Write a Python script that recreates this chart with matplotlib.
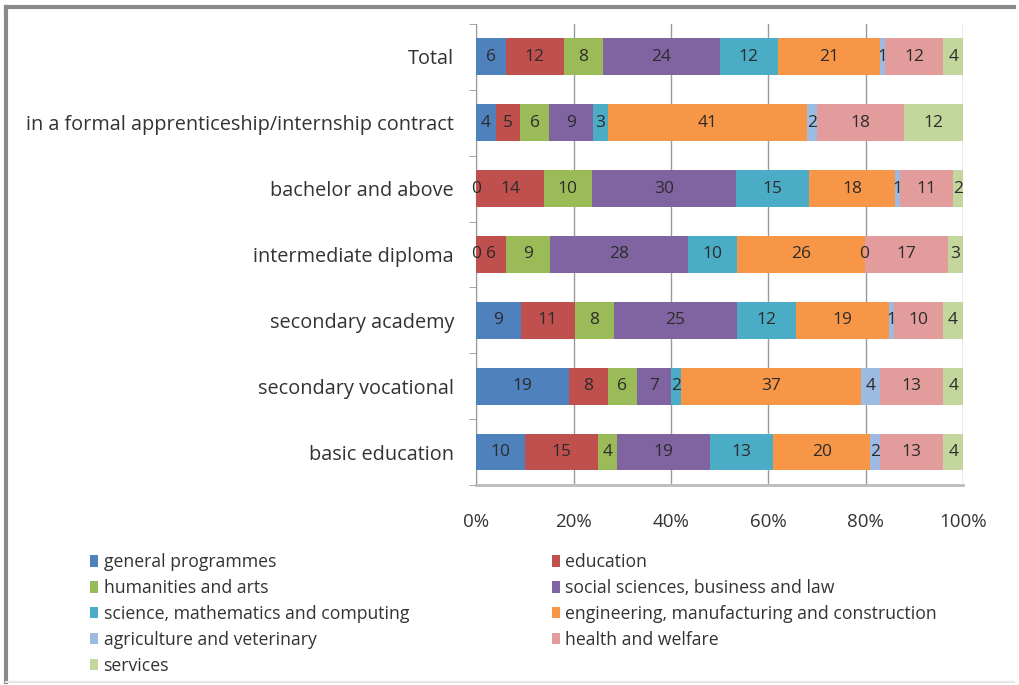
import matplotlib.pyplot as plt
import numpy as np
from matplotlib.lines import Line2D

plt.rcParams['font.family'] = ['Open Sans', 'DejaVu Sans']

# rows from bottom to top, as drawn
groups = ['basic education', 'secondary vocational', 'secondary academy',
          'intermediate diploma', 'bachelor and above',
          'in a formal apprenticeship/internship contract', 'Total']

fields = ['general programmes', 'education', 'humanities and arts',
          'social sciences, business and law', 'science, mathematics and computing',
          'engineering, manufacturing and construction', 'agriculture and veterinary',
          'health and welfare', 'services']

general = [10, 19, 9, 0, 0, 4, 6]
education = [15, 8, 11, 6, 14, 5, 12]
humanities = [4, 6, 8, 9, 10, 6, 8]
social = [19, 7, 25, 28, 30, 9, 24]
science = [13, 2, 12, 10, 15, 3, 12]
engineering = [20, 37, 19, 26, 18, 41, 21]
agriculture = [2, 4, 1, 0, 1, 2, 1]
health = [13, 13, 10, 17, 11, 18, 12]
services = [4, 4, 4, 3, 2, 12, 4]

series = [general, education, humanities, social, science,
          engineering, agriculture, health, services]
colors = ['#4F81BD', '#C0504D', '#9BBB59', '#8064A2', '#4BACC6',
          '#F79646', '#9DBAE0', '#E39C9C', '#C3D69B']

vals = np.array(series, dtype=float)
shares = vals / vals.sum(axis=0)

fig = plt.figure(figsize=(10.2, 6.85), dpi=100)
ax = fig.add_axes([0.467, 0.292, 0.477, 0.673])

y = np.arange(len(groups))
left = np.zeros(len(groups))
for name, v, s, c in zip(fields, vals, shares, colors):
    ax.barh(y, s, left=left, height=0.56, color=c, label=name, zorder=3)
    for yi, (l, w, lab) in enumerate(zip(left, s, v)):
        ax.text(l + w / 2, yi, '%d' % lab, ha='center', va='center',
                fontsize=12.5, color='#2b2b2b', zorder=4)
    left += s

ax.set_xlim(0, 1)
ax.set_ylim(-0.5, len(groups) - 0.5)
ax.set_xticks(np.linspace(0, 1, 6))
ax.set_xticklabels(['0%', '20%', '40%', '60%', '80%', '100%'], fontsize=13.5, color='#333333')
ax.set_yticks(y)
ax.set_yticklabels(groups, fontsize=14.3, color='#333333')
ax.tick_params(axis='x', length=0, pad=20)
ax.tick_params(axis='y', length=0, pad=16)
ax.set_yticks(np.arange(-0.5, len(groups), 1), minor=True)
ax.tick_params(axis='y', which='minor', length=5, color='#999999', direction='out')
ax.grid(axis='x', color='#999999', linewidth=1, zorder=0)
for sp in ['top', 'right']:
    ax.spines[sp].set_visible(False)
ax.spines['left'].set_color('#999999')
ax.spines['bottom'].set_color('#bbbbbb')
ax.spines['bottom'].set_linewidth(2)

# legend is filled row by row in the reference
handles, labels = ax.get_legend_handles_labels()
order = [0, 2, 4, 6, 8, 1, 3, 5, 7]
fig.legend([handles[i] for i in order], [labels[i] for i in order], ncol=2,
           loc='upper left', bbox_to_anchor=(0.073, 0.216),
           frameon=False, fontsize=12.7, handlelength=0.45, handleheight=0.65,
           handletextpad=0.3, columnspacing=8.1, labelspacing=0.45,
           labelcolor='#333333')

# outer frame, grey on top and left
fig.add_artist(Line2D([0.006, 0.994], [0.99, 0.99], color='#8a8a8a', lw=3, transform=fig.transFigure))
fig.add_artist(Line2D([0.006, 0.006], [0.005, 0.99], color='#8a8a8a', lw=3, transform=fig.transFigure))
fig.add_artist(Line2D([0.006, 0.994], [0.005, 0.005], color='#e6e6e6', lw=1.5, transform=fig.transFigure))

fig.savefig('out.png', dpi=100)
